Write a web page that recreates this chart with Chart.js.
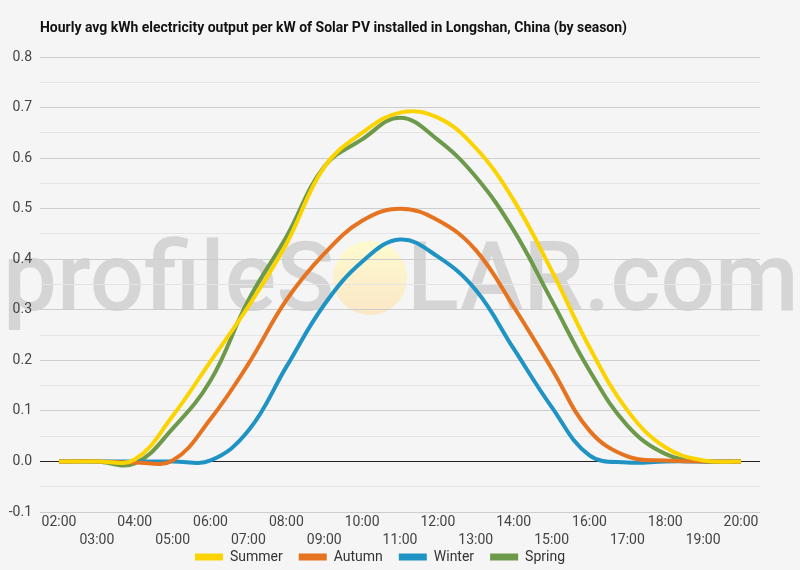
<!DOCTYPE html>
<html>
<head>
<meta charset="utf-8">
<script src="https://cdn.jsdelivr.net/npm/chart.js@4"></script>
<style>
  html, body { margin: 0; padding: 0; background: #f5f5f5; }
  #wrap { width: 800px; height: 570px; }
</style>
</head>
<body>
<div id="wrap"><canvas id="myChart"></canvas></div>
<script>
// Data
const hours = ['02:00', '03:00', '04:00', '05:00', '06:00', '07:00', '08:00', '09:00', '10:00', '11:00',
  '12:00', '13:00', '14:00', '15:00', '16:00', '17:00', '18:00', '19:00', '20:00'];
const summer = [0, 0, 0.004, 0.09, 0.198, 0.307, 0.43, 0.582, 0.65, 0.69,
  0.68, 0.62, 0.517, 0.378, 0.226, 0.101, 0.028, 0.002, 0];
const autumn = [0, 0, -0.002, 0.002, 0.084, 0.193, 0.319, 0.411, 0.476, 0.5,
  0.477, 0.418, 0.306, 0.184, 0.061, 0.01, 0.002, 0, 0];
const winter = [0, 0, 0, 0, 0.002, 0.061, 0.187, 0.31, 0.395, 0.439,
  0.405, 0.339, 0.223, 0.108, 0.012, -0.002, 0, 0, 0];
const spring = [0, 0, -0.004, 0.065, 0.16, 0.319, 0.444, 0.583, 0.637, 0.68,
  0.636, 0.563, 0.457, 0.319, 0.18, 0.071, 0.015, 0, 0];

const titleText = 'Hourly avg kWh electricity output per kW of Solar PV installed in Longshan, China (by season)';

// background + watermark, drawn under the grid
const backdrop = {
  id: 'backdrop',
  afterLayout(chart) {
    // pull the legend up so it sits right under the second row of hour labels
    chart.legend.top -= 18;
    chart.legend.bottom -= 18;
  },
  beforeDraw(chart) {
    const ctx = chart.ctx;
    ctx.save();
    ctx.fillStyle = '#f5f5f5';
    ctx.fillRect(0, 0, chart.width, chart.height);

    ctx.font = '500 96px Roboto';
    ctx.fillStyle = 'rgba(200,200,200,0.7)';
    ctx.textBaseline = 'alphabetic';
    ctx.fillText('profileS', 3, 310);
    ctx.fillText('LAR.com', 407, 310);

    const g = ctx.createLinearGradient(0, 241, 0, 315);
    g.addColorStop(0, 'rgba(255,252,200,0.85)');
    g.addColorStop(1, 'rgba(252,228,190,0.85)');
    ctx.fillStyle = g;
    ctx.beginPath();
    ctx.arc(370, 278, 37, 0, Math.PI * 2);
    ctx.fill();

    // title, slightly condensed
    ctx.font = 'bold 14px Roboto';
    ctx.fillStyle = '#111';
    ctx.textBaseline = 'middle';
    const w = ctx.measureText(titleText).width;
    ctx.translate(40, 28);
    ctx.scale(587 / w, 1);
    ctx.fillText(titleText, 0, 0);
    ctx.restore();
  }
};

const ctx = document.getElementById('myChart').getContext('2d');
new Chart(ctx, {
  type: 'line',
  data: {
    labels: hours,
    datasets: [
      { label: 'Summer', data: summer, borderColor: '#fbd400', backgroundColor: '#fbd400' },
      { label: 'Autumn', data: autumn, borderColor: '#e5731f', backgroundColor: '#e5731f' },
      { label: 'Winter', data: winter, borderColor: '#1f93c4', backgroundColor: '#1f93c4' },
      { label: 'Spring', data: spring, borderColor: '#6d9a4a', backgroundColor: '#6d9a4a' }
    ]
  },
  options: {
    responsive: true,
    maintainAspectRatio: false,
    animation: false,
    layout: { padding: { top: 57, right: 40, left: 0, bottom: -22 } },
    elements: {
      line: { borderWidth: 4, tension: 0.4, cubicInterpolationMode: 'default' },
      point: { radius: 0 }
    },
    scales: {
      x: {
        offset: true,
        afterFit: (s) => { s.height = 40; },
        grid: { display: false, drawTicks: false },
        border: { display: false },
        ticks: {
          autoSkip: false,
          maxRotation: 0,
          padding: 2,
          color: '#444',
          font: { family: 'Roboto', size: 14, lineHeight: 1.25 },
          callback: function (v, i) {
            const l = this.getLabelForValue(v);
            return i % 2 === 0 ? [l, ''] : ['', l];
          }
        }
      },
      y: {
        min: -0.1,
        max: 0.8,
        afterFit: (s) => { s.width = 40; },
        border: { display: false },
        grid: {
          drawTicks: false,
          color: (c) => {
            const v = Math.round(c.tick.value * 100);
            if (v === 0) return '#222';
            return v % 10 === 0 ? '#cdcdcd' : '#e4e4e4';
          },
          lineWidth: 1
        },
        ticks: {
          stepSize: 0.05,
          padding: 8,
          color: '#444',
          font: { family: 'Roboto', size: 14 },
          callback: (v) => {
            const r = Math.round(v * 100);
            return r % 10 === 0 ? (r / 100).toFixed(1) : '';
          }
        }
      }
    },
    plugins: {
      title: { display: false },
      tooltip: { enabled: false },
      legend: {
        position: 'bottom',
        labels: {
          boxWidth: 28,
          boxHeight: 7,
          padding: 16,
          color: '#333',
          font: { family: 'Roboto', size: 14, lineHeight: 1 },
          generateLabels: (chart) => Chart.defaults.plugins.legend.labels.generateLabels(chart)
            .map(l => Object.assign(l, { lineWidth: 0 }))
        }
      }
    }
  },
  plugins: [backdrop]
});
</script>
</body>
</html>
